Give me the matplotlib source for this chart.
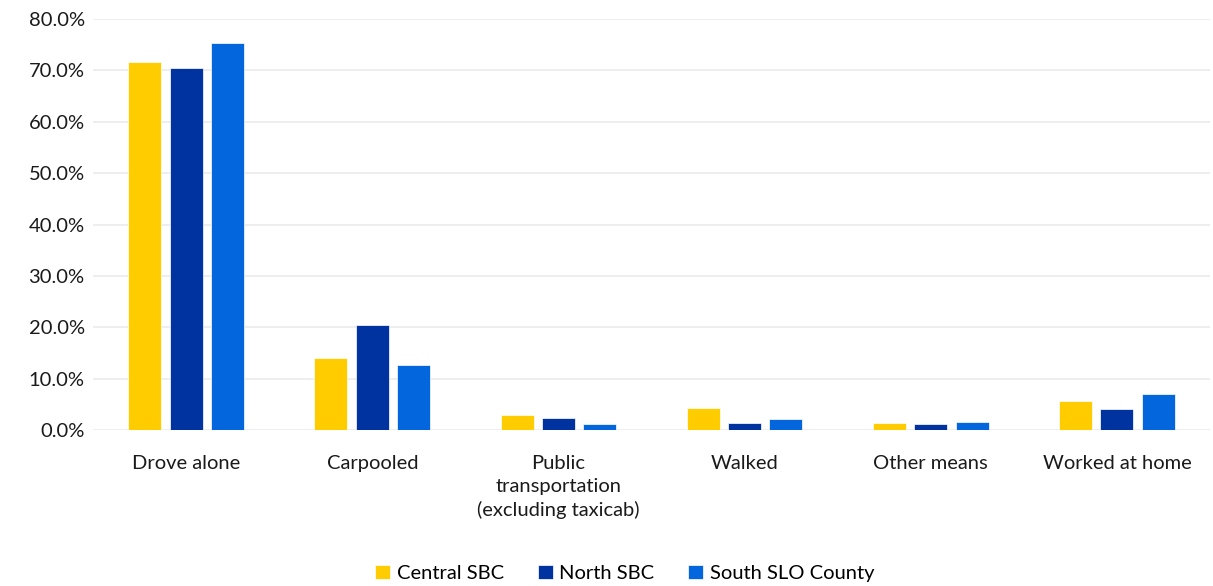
import numpy as np
import matplotlib
matplotlib.use("Agg")
import matplotlib.pyplot as plt
from matplotlib.ticker import PercentFormatter

plt.rcParams["font.family"] = ["Lato", "DejaVu Sans"]

categories = ["Drove alone", "Carpooled", "Public\ntransportation\n(excluding taxicab)",
              "Walked", "Other means", "Worked at home"]
series = ["Central SBC", "North SBC", "South SLO County"]
central = [71.7, 14.1, 3.0, 4.2, 1.45, 5.7]
north = [70.4, 20.5, 2.4, 1.4, 1.2, 4.1]
south = [75.4, 12.6, 1.2, 2.2, 1.6, 7.1]
colors = ["#FFCC00", "#0033A0", "#0366DC"]

fig = plt.figure(figsize=(12.13, 5.86), dpi=100)
ax = fig.add_axes([93 / 1213, 156 / 586, 1117 / 1213, 411 / 586])

x = np.arange(len(categories))
step, width = 0.222, 0.177
for k, (vals, name) in enumerate(zip([central, north, south], series)):
    ax.bar(x + (k - 1) * step, vals, width, color=colors[k], label=name,
           edgecolor="white", linewidth=0.5, zorder=3)

ax.set_xlim(-0.5, len(categories) - 0.5)
ax.set_ylim(0, 80)
ax.set_yticks(np.arange(0, 81, 10))
ax.yaxis.set_major_formatter(PercentFormatter(decimals=1))
ax.grid(axis="y", color="#EBEBEB", linewidth=1.2, zorder=0)
for s in ax.spines.values():
    s.set_visible(False)
ax.tick_params(axis="both", length=0, labelsize=14.5, colors="#1a1a1a")
ax.tick_params(axis="y", pad=6)
ax.tick_params(axis="x", pad=18)
ax.set_xticks(x)
ax.set_xticklabels(categories, linespacing=1.4)

fig.legend(loc="lower center", bbox_to_anchor=(0.515, -0.024), ncol=3, frameon=False,
           fontsize=14.5, handlelength=0.75, handleheight=0.75, handletextpad=0.3,
           columnspacing=1.7)

fig.savefig("out.png", dpi=100)
